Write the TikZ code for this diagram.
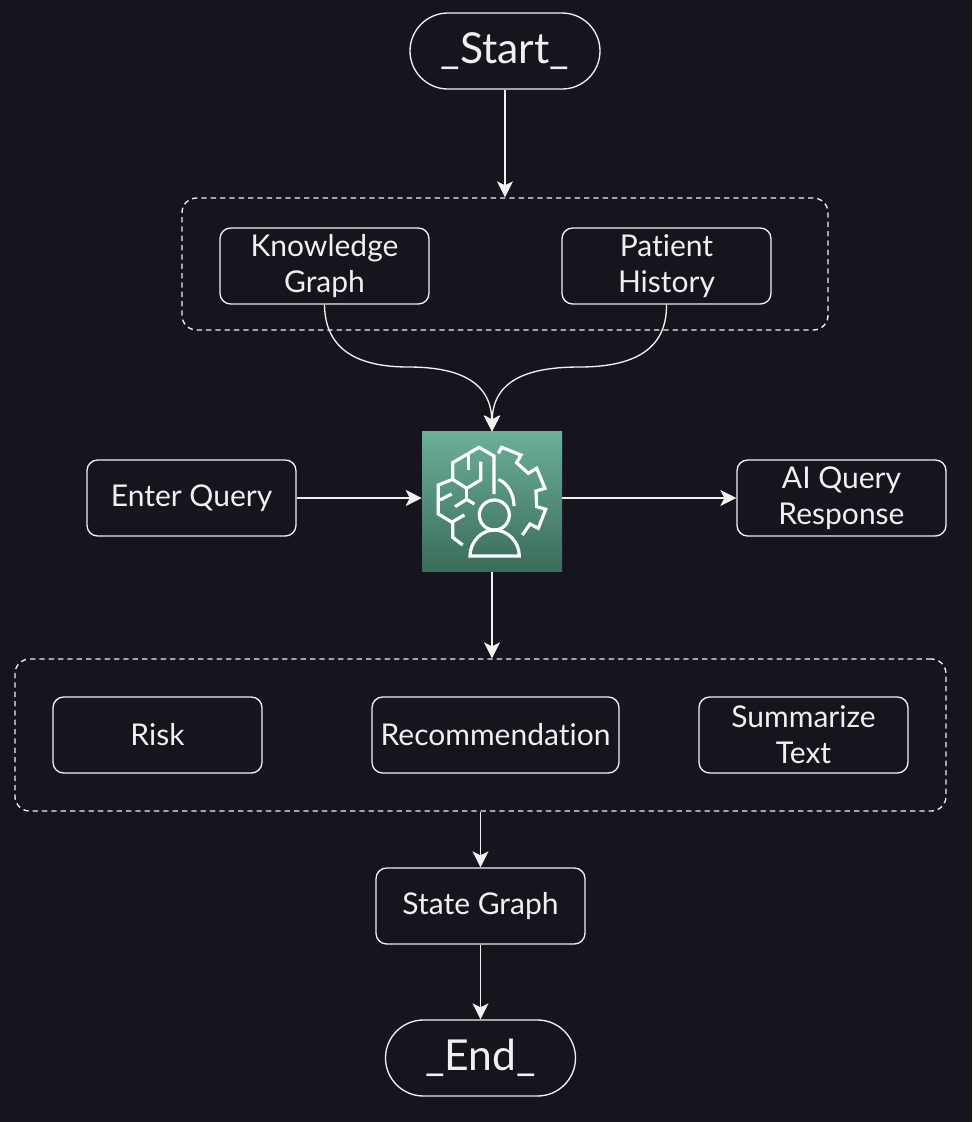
\documentclass[tikz,border=0pt]{standalone}
\usepackage{fontspec}
\setmainfont{Lato}[Ligatures=NoCommon]
\usetikzlibrary{arrows.meta}
\definecolor{canvasbg}{HTML}{18141D}
\definecolor{linegray}{HTML}{F0F0F0}
\definecolor{iconlight}{HTML}{6BAF9B}
\definecolor{icondark}{HTML}{3B6B5A}
\tikzset{
  boxnode/.style={draw=linegray,line width=1pt,rounded corners=8pt,minimum width=156.75pt,minimum height=57pt,inner sep=0pt,text=linegray,align=center,font=\fontsize{22.5}{27}\selectfont},
  pillnode/.style={draw=linegray,line width=1pt,rounded corners=28.5pt,minimum width=142.5pt,minimum height=57pt,inner sep=0pt,text=linegray,font=\fontsize{32}{27}\selectfont},
  groupnode/.style={draw=linegray,line width=1pt,dash pattern=on 4pt off 3pt,rounded corners=11pt,inner sep=0pt},
  flowline/.style={draw=linegray,line width=1pt,-{Stealth[length=12pt,width=12pt,inset=3pt]}},
  iconline/.style={draw=white,line width=2.4pt,line join=miter}
}

\begin{document}
\begin{tikzpicture}[x=0.75pt,y=0.75pt,yscale=-1,xscale=1]
\useasboundingbox (0,0) rectangle (972,1122);
\fill [canvasbg] (0,0) rectangle (972,1122);

%Shape: dashed groups
\node [groupnode,minimum width=484.5pt,minimum height=99pt] (sources) at (505,264) {};
\node [groupnode,minimum width=698.25pt,minimum height=114pt] (outcomes) at (480.5,735) {};

%Shape: agent square
\node [top color=iconlight,bottom color=icondark,minimum width=105pt,minimum height=105pt,inner sep=0pt] (agent) at (492,501.75) {};

%Icon
\begin{scope}[shift={(410,420)},scale=0.3333]
\draw [iconline] (252,222) -- (252,108) -- (207,82) -- (128,128) -- (128,178) -- (85,195) -- (85,282) -- (128,308) -- (128,352) -- (158,375);
\draw [iconline] (128,178) -- (170,205) -- (212,180) -- (212,125);
\draw [iconline] (175,150) -- (175,105);
\draw [iconline] (170,205) -- (170,238);
\draw [iconline] (135,260) -- (170,238) -- (193,252);
\draw [iconline] (90,240) -- (125,222);
\draw [iconline] (128,305) -- (163,285);
\draw [iconline] (265,100) -- (275,82) -- (333,105) -- (320,128) -- (355,160) -- (380,145) -- (405,205) -- (378,213) -- (380,260) -- (407,268) -- (385,325) -- (360,312) -- (337,345);
\draw [iconline] (265,178) .. controls (295,190) and (312,225) .. (312,258);
\draw [iconline] (253,285) circle [radius=45];
\draw [iconline] (180,408) .. controls (180,365) and (215,330) .. (253,330) .. controls (292,330) and (328,365) .. (328,408) -- cycle;
\end{scope}

% Text Node
\node [pillnode] (start) at (505,51) {\_Start\_};
\node [boxnode] (knowledge) at (324.5,266) {Knowledge\\Graph};
\node [boxnode] (history) at (666.5,266) {Patient\\History};
\node [boxnode] (query) at (191.5,498) {Enter Query};
\node [boxnode] (response) at (841.5,498) {AI Query\\Response};
\node [boxnode] (risk) at (157.5,735) {Risk};
\node [boxnode,minimum width=185.25pt] (recommend) at (495.5,735) {Recommendation};
\node [boxnode] (summary) at (803.5,735) {Summarize\\Text};
\node [boxnode] (state) at (480.5,906) {State Graph};
\node [pillnode] (end) at (480.5,1058) {\_End\_};

\coordinate (leftbend) at (408.5,367);
\coordinate (rightbend) at (579.5,367);

%Straight Lines
\draw [flowline] (start.south) -- (start.south |- sources.north);
\draw [flowline] (query.east) -- (query.east -| agent.west);
\draw [flowline] (response.west -| agent.east) -- (response.west);
\draw [flowline] (agent.south) -- (agent.south |- outcomes.north);
\draw [flowline] (state.north |- outcomes.south) -- (state.north);
\draw [flowline] (state.south) -- (end.north);
%Curves
\draw [flowline] (knowledge.south) .. controls (325,350) and (358,367) .. (leftbend) .. controls (452,367) and (491,378) .. (agent.north);
\draw [flowline] (history.south) .. controls (667,350) and (633,367) .. (rightbend) .. controls (532,367) and (493,378) .. (agent.north);
\end{tikzpicture}
\end{document}
